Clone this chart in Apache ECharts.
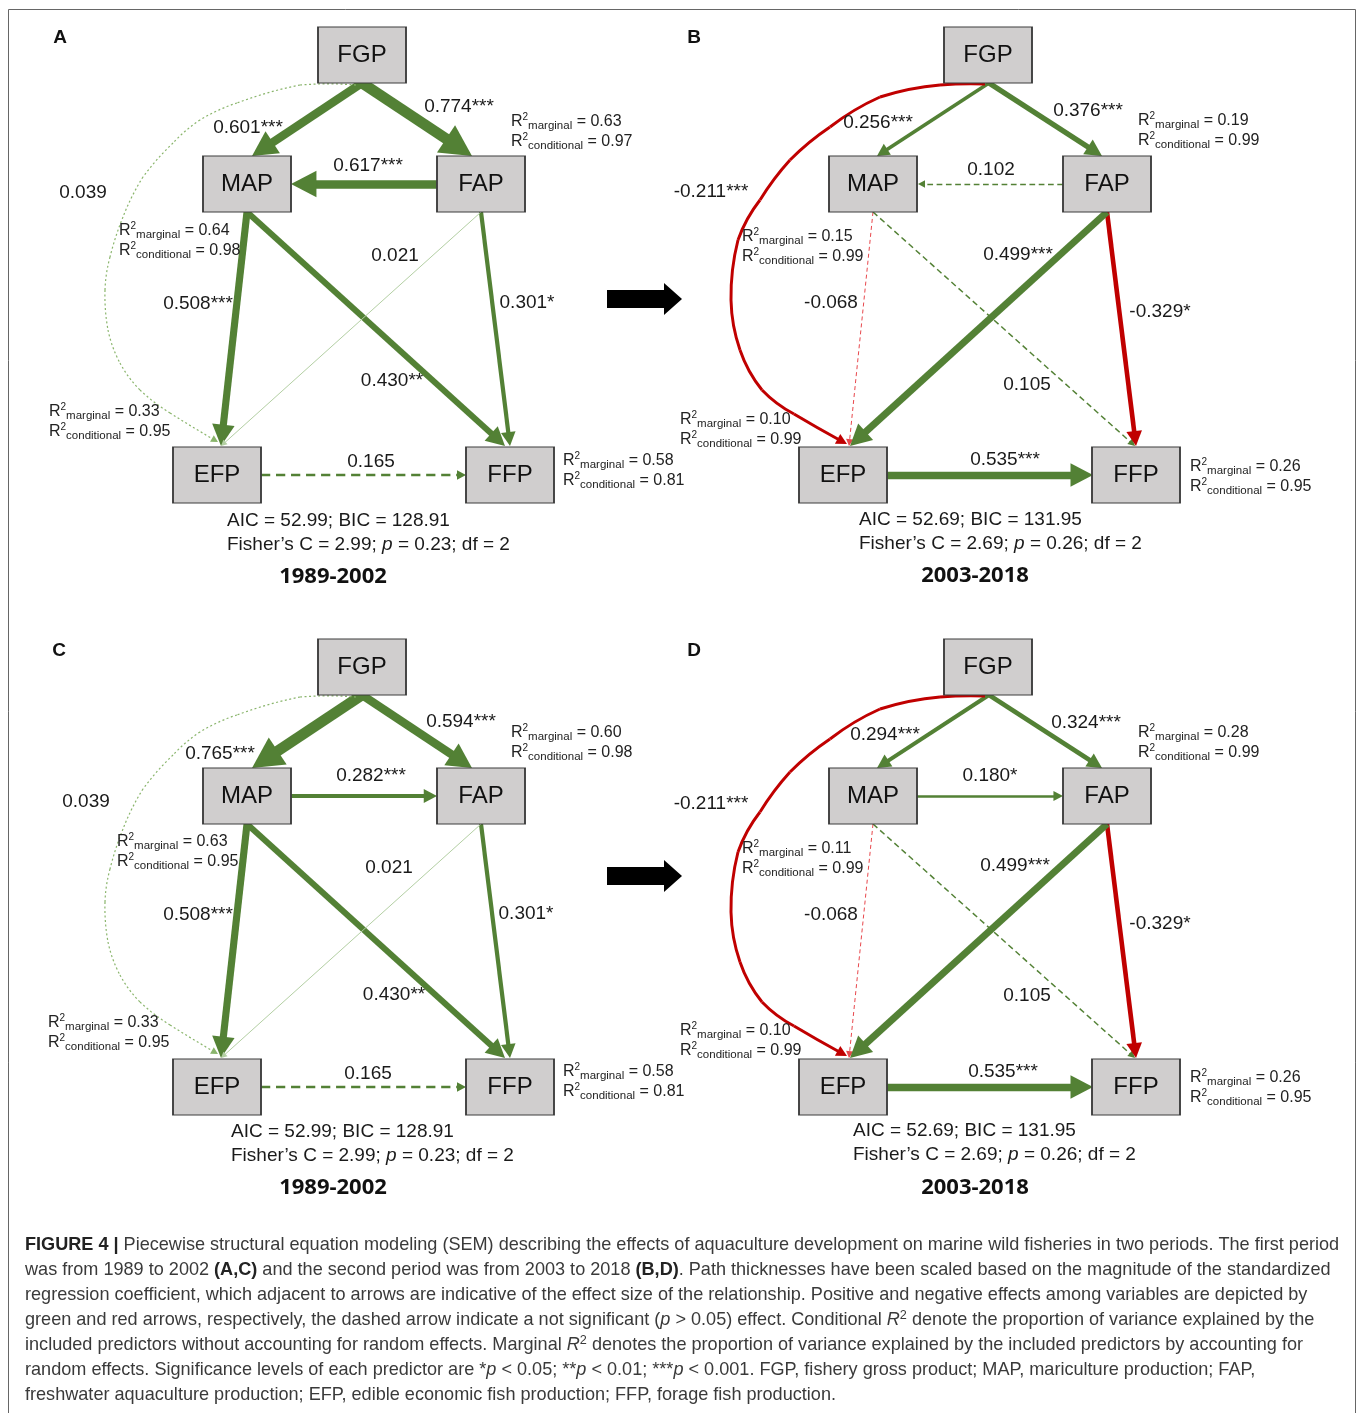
<!DOCTYPE html>
<html><head><meta charset="utf-8">
<script src="https://cdn.jsdelivr.net/npm/echarts@6/dist/echarts.min.js"></script>
<style>html,body{margin:0;padding:0;background:#fff}#c{width:1358px;height:1413px}</style>
</head><body><div id="c"></div>
<script>
// ================= DATA =================
const nodeNames = ['FGP', 'MAP', 'FAP', 'EFP', 'FFP'];
const r2Nodes = ['MAP', 'FAP', 'EFP', 'FFP'];
const panelLetters = ['A', 'B', 'C', 'D'];
const periodLabels = ['1989-2002', '2003-2018', '1989-2002', '2003-2018'];

const pathsA = ['FGP>MAP', 'FGP>FAP', 'FAP>MAP', 'MAP>EFP', 'MAP>FFP', 'FAP>FFP', 'FAP>EFP', 'EFP>FFP', 'FGP>EFP'];
const coefA  = [0.601, 0.774, 0.617, 0.508, 0.430, 0.301, 0.021, 0.165, 0.039];
const sigA   = ['***', '***', '***', '***', '**', '*', '', '', ''];

const pathsB = ['FGP>MAP', 'FGP>FAP', 'FAP>MAP', 'MAP>EFP', 'MAP>FFP', 'FAP>FFP', 'FAP>EFP', 'EFP>FFP', 'FGP>EFP'];
const coefB  = [0.256, 0.376, 0.102, -0.068, 0.105, -0.329, 0.499, 0.535, -0.211];
const sigB   = ['***', '***', '', '', '', '*', '***', '***', '***'];

const pathsC = ['FGP>MAP', 'FGP>FAP', 'MAP>FAP', 'MAP>EFP', 'MAP>FFP', 'FAP>FFP', 'FAP>EFP', 'EFP>FFP', 'FGP>EFP'];
const coefC  = [0.765, 0.594, 0.282, 0.508, 0.430, 0.301, 0.021, 0.165, 0.039];
const sigC   = ['***', '***', '***', '***', '**', '*', '', '', ''];

const pathsD = ['FGP>MAP', 'FGP>FAP', 'MAP>FAP', 'MAP>EFP', 'MAP>FFP', 'FAP>FFP', 'FAP>EFP', 'EFP>FFP', 'FGP>EFP'];
const coefD  = [0.294, 0.324, 0.180, -0.068, 0.105, -0.329, 0.499, 0.535, -0.211];
const sigD   = ['***', '***', '*', '', '', '*', '***', '***', '***'];

// R2 in order of r2Nodes: MAP, FAP, EFP, FFP
const r2MargA = [0.64, 0.63, 0.33, 0.58], r2CondA = [0.98, 0.97, 0.95, 0.81];
const r2MargB = [0.15, 0.19, 0.10, 0.26], r2CondB = [0.99, 0.99, 0.99, 0.95];
const r2MargC = [0.63, 0.60, 0.33, 0.58], r2CondC = [0.95, 0.98, 0.95, 0.81];
const r2MargD = [0.11, 0.28, 0.10, 0.26], r2CondD = [0.99, 0.99, 0.99, 0.95];

const aicValues = [52.99, 52.69, 52.99, 52.69];
const bicValues = [128.91, 131.95, 128.91, 131.95];
const fisherC   = [2.99, 2.69, 2.99, 2.69];
const pValues   = [0.23, 0.26, 0.23, 0.26];
const dfValues  = [2, 2, 2, 2];

const captionLines = [
  '{b|FIGURE 4 |} Piecewise structural equation modeling (SEM) describing the effects of aquaculture development on marine wild fisheries in two periods. The first period',
  'was from 1989 to 2002 {b|(A,C)} and the second period was from 2003 to 2018 {b|(B,D)}. Path thicknesses have been scaled based on the magnitude of the standardized',
  'regression coefficient, which adjacent to arrows are indicative of the effect size of the relationship. Positive and negative effects among variables are depicted by',
  'green and red arrows, respectively, the dashed arrow indicate a not significant ({i|p} > 0.05) effect. Conditional {i|R}{sup|2} denote the proportion of variance explained by the',
  'included predictors without accounting for random effects. Marginal {i|R}{sup|2} denotes the proportion of variance explained by the included predictors by accounting for',
  'random effects. Significance levels of each predictor are *{i|p} < 0.05; **{i|p} < 0.01; ***{i|p} < 0.001. FGP, fishery gross product; MAP, mariculture production; FAP,',
  'freshwater aquaculture production; EFP, edible economic fish production; FFP, forage fish production.'
];

// ================= LAYOUT / STYLE =================
const FONT = "'Liberation Sans', Arial, Helvetica, sans-serif";
const GREEN = '#538135', RED = '#c00000';
const panelPaths = [pathsA, pathsB, pathsC, pathsD];
const panelCoefs = [coefA, coefB, coefC, coefD];
const panelSigs = [sigA, sigB, sigC, sigD];
const panelR2M = [r2MargA, r2MargB, r2MargC, r2MargD];
const panelR2C = [r2CondA, r2CondB, r2CondC, r2CondD];

const panelOffsets = [[0, 0], [626, 0], [0, 612], [626, 612]];
const boxCenter = { FGP: [362, 55], MAP: [247, 184], FAP: [481, 184], EFP: [217, 475], FFP: [510, 475] };
const boxSize = [88, 56];

// path routes in panel-local pixels (first point = start, last = arrow tip)
const edgeGeom = [
  { 'FGP>MAP': [[362, 83], [252, 156]], 'FGP>FAP': [[362, 83], [472, 156]],
    'FAP>MAP': [[437, 184], [291, 184]], 'MAP>FAP': [[291, 184], [437, 184]],
    'MAP>EFP': [[247, 212], [221, 446]], 'MAP>FFP': [[247, 212], [505, 446]],
    'FAP>FFP': [[481, 212], [510, 446]], 'FAP>EFP': [[481, 212], [221, 446]],
    'EFP>FFP': [[261, 475], [466, 475]],
    'FGP>EFP': [[356, 85], [300, 85], [237, 103], [200, 120], [173, 143], [143, 177], [123, 217], [110, 257], [105, 290],
                [108, 330], [120, 363], [140, 390], [170, 413], [218, 442]] },
  { 'FGP>MAP': [[363, 83], [251, 156]], 'FGP>FAP': [[363, 83], [476, 156]],
    'FAP>MAP': [[437, 184], [292, 184]], 'MAP>FAP': [[291, 184], [437, 184]],
    'MAP>EFP': [[247, 212], [223, 446]], 'MAP>FFP': [[247, 212], [509, 446]],
    'FAP>FFP': [[481, 212], [510, 446]], 'FAP>EFP': [[481, 212], [224, 446]],
    'EFP>FFP': [[261, 475], [467, 475]],
    'FGP>EFP': [[359, 84], [314, 85], [254, 97], [204, 127], [164, 160], [134, 200], [112, 240], [105, 300],
                [114, 350], [136, 390], [168, 414], [221, 444]] }
];
const styleOverrides = [
  { 'FAP>EFP': { type: 'solid', color: '#b3cfa3', width: 1, head: 6 },
    'FGP>EFP': { type: [2, 2.5], color: '#8ab56c', width: 1.2, head: 7 } },
  { 'MAP>EFP': { color: '#e8474c', head: 7 } }
];
const labelPos = [
  { 'FGP>MAP': [248, 128], 'FGP>FAP': [459, 107], 'FAP>MAP': [368, 166], 'MAP>EFP': [198, 304], 'MAP>FFP': [392, 381],
    'FAP>FFP': [527, 303], 'FAP>EFP': [395, 256], 'EFP>FFP': [371, 462], 'FGP>EFP': [83, 193] },
  { 'FGP>MAP': [252, 123], 'FGP>FAP': [462, 111], 'FAP>MAP': [365, 170], 'MAP>EFP': [205, 303], 'MAP>FFP': [401, 385],
    'FAP>FFP': [534, 312], 'FAP>EFP': [392, 255], 'EFP>FFP': [379, 460], 'FGP>EFP': [85, 192] },
  { 'FGP>MAP': [220, 142], 'FGP>FAP': [461, 110], 'MAP>FAP': [371, 164], 'MAP>EFP': [198, 303], 'MAP>FFP': [394, 383],
    'FAP>FFP': [526, 302], 'FAP>EFP': [389, 256], 'EFP>FFP': [368, 462], 'FGP>EFP': [86, 190] },
  { 'FGP>MAP': [259, 123], 'FGP>FAP': [460, 111], 'MAP>FAP': [364, 164], 'MAP>EFP': [205, 303], 'MAP>FFP': [401, 384],
    'FAP>FFP': [534, 312], 'FAP>EFP': [389, 254], 'EFP>FFP': [377, 460], 'FGP>EFP': [85, 192] }
];
const r2Pos = [
  { MAP: [119, 231], FAP: [511, 122], EFP: [49, 412], FFP: [563, 461] },
  { MAP: [116, 237], FAP: [512, 121], EFP: [54, 420], FFP: [564, 467] },
  { MAP: [117, 230], FAP: [511, 121], EFP: [48, 411], FFP: [563, 460] },
  { MAP: [116, 237], FAP: [512, 121], EFP: [54, 419], FFP: [564, 466] }
];
const statsPos = [[227, 533], [233, 532], [231, 532], [227, 531]];
const periodPos = [[333, 577], [349, 576], [333, 576], [349, 576]];
const letterPos = [[60, 38], [68, 38], [59, 39], [68, 39]];

// ================= HELPERS =================
const sub = (a, b) => [a[0] - b[0], a[1] - b[1]];
const norm = v => { const l = Math.hypot(v[0], v[1]) || 1; return [v[0] / l, v[1] / l]; };
function fitCurveness(p1, p2, C) {
  const M = [(p1[0] + p2[0]) / 2, (p1[1] + p2[1]) / 2];
  const v = [p2[1] - p1[1], p1[0] - p2[0]];
  const w = sub(C, M);
  return (w[0] * v[0] + w[1] * v[1]) / (v[0] * v[0] + v[1] * v[1]);
}
// smooth route through points: quadratic control per segment from Hermite tangents
function routeSegments(pts) {
  const n = pts.length, segs = [];
  const tan = pts.map((p, i) => {
    const a = pts[Math.max(0, i - 1)], b = pts[Math.min(n - 1, i + 1)];
    const k = (i === 0 || i === n - 1) ? 1 : 0.5;
    return [(b[0] - a[0]) * k, (b[1] - a[1]) * k];
  });
  for (let i = 0; i < n - 1; i++) {
    const P0 = pts[i], P1 = pts[i + 1];
    if (n === 2) { segs.push({ p1: P0, p2: P1, C: null }); continue; }
    const M = [(P0[0] + P1[0]) / 2, (P0[1] + P1[1]) / 2];
    const mid = [M[0] + (tan[i][0] - tan[i + 1][0]) / 8, M[1] + (tan[i][1] - tan[i + 1][1]) / 8];
    segs.push({ p1: P0, p2: P1, C: [2 * mid[0] - M[0], 2 * mid[1] - M[1]] });
  }
  return segs;
}
function edgeStyle(fam, key, c, s) {
  const width = Math.max(1, 14 * Math.abs(c));
  const st = {
    width: width,
    color: c < 0 ? RED : GREEN,
    type: s ? 'solid' : [Math.max(4, width * 4), Math.max(3, width * 2.5)],
    head: Math.max(7, 2.6 * width + 3)
  };
  return Object.assign(st, styleOverrides[fam][key] || {});
}

const r2Rich = {
  m: { fontSize: 16, fontFamily: FONT, color: '#222', lineHeight: 20, verticalAlign: 'middle' },
  sup: { fontSize: 10, fontFamily: FONT, color: '#222', lineHeight: 20, verticalAlign: 'top' },
  sb: { fontSize: 11.5, fontFamily: FONT, color: '#222', lineHeight: 20, verticalAlign: 'bottom' }
};
const statRich = {
  t: { fontSize: 19, fontFamily: FONT, color: '#1a1a1a', lineHeight: 24 },
  i: { fontSize: 19, fontFamily: FONT, color: '#1a1a1a', lineHeight: 24, fontStyle: 'italic' }
};

function buildPanel(p) {
  const off = panelOffsets[p];
  const T = pt => [pt[0] + off[0], pt[1] + off[1]];
  const fam = p % 2;
  const nodes = [], links = [], heads = [], texts = [];
  const anchor = (name, pt) => nodes.push({ name, value: pt, symbol: 'circle', symbolSize: 0, label: { show: false } });

  panelPaths[p].forEach((key, i) => {
    const c = panelCoefs[p][i], s = panelSigs[p][i];
    const st = edgeStyle(fam, key, c, s);
    const segs = routeSegments(edgeGeom[fam][key].map(T));
    const L = st.head, W = L * 1.05;
    const last = segs[segs.length - 1];
    const tip = last.p2;
    const d = norm(sub(tip, last.C || last.p1));
    const end = [tip[0] - d[0] * L * 0.75, tip[1] - d[1] * L * 0.75];
    const ls = { color: st.color, width: st.width, type: st.type, opacity: 1, cap: 'butt' };
    const base = p + '-e' + i + '-';
    anchor(base + '0', segs[0].p1);
    segs.forEach((sg, k) => {
      const isLast = k === segs.length - 1;
      const p2 = isLast ? end : sg.p2;
      anchor(base + (k + 1), p2);
      const curv = sg.C ? fitCurveness(sg.p1, p2, sg.C) : 0;
      links.push({ source: base + k, target: base + (k + 1), lineStyle: Object.assign({}, ls, { curveness: curv }) });
    });
    heads.push({
      name: p + '-h' + i, value: [tip[0] - d[0] * L / 2, tip[1] - d[1] * L / 2],
      symbol: 'triangle', symbolSize: [W, L],
      symbolRotate: Math.atan2(-d[1], d[0]) * 180 / Math.PI - 90,
      itemStyle: { color: st.color }, label: { show: false }
    });
    texts.push({
      name: p + '-l' + i, value: T(labelPos[p][key]), symbol: 'circle', symbolSize: 0,
      label: { show: true, position: 'inside', formatter: c.toFixed(3) + s, fontSize: 19, fontFamily: FONT, color: '#1a1a1a' }
    });
  });

  const boxes = nodeNames.map(n => ({
    name: p + '-' + n, value: T(boxCenter[n]), symbol: 'rect', symbolSize: boxSize,
    itemStyle: { color: '#d0cece', borderColor: '#3d3d3d', borderWidth: 1.5 },
    label: { show: true, position: 'inside', formatter: n, fontSize: 24, fontFamily: FONT, color: '#111' }
  }));

  r2Nodes.forEach((n, k) => {
    const pos = r2Pos[p][n];
    texts.push({
      name: p + '-r' + n, value: T([pos[0], pos[1] + 10]), symbol: 'circle', symbolSize: 0,
      label: {
        show: true, position: 'right', distance: 0, rich: r2Rich,
        formatter: '{m|R}{sup|2}{sb|marginal}{m| = ' + panelR2M[p][k].toFixed(2) + '}\n{m|R}{sup|2}{sb|conditional}{m| = ' + panelR2C[p][k].toFixed(2) + '}'
      }
    });
  });
  texts.push({
    name: p + '-stats', value: T(statsPos[p]), symbol: 'circle', symbolSize: 0,
    label: {
      show: true, position: 'right', distance: 0, rich: statRich,
      formatter: '{t|AIC = ' + aicValues[p].toFixed(2) + '; BIC = ' + bicValues[p].toFixed(2) + '}\n{t|Fisher\u2019s C = ' +
        fisherC[p].toFixed(2) + '; }{i|p}{t| = ' + pValues[p].toFixed(2) + '; df = ' + dfValues[p] + '}'
    }
  });
  texts.push({
    name: p + '-period', value: T(periodPos[p]), symbol: 'circle', symbolSize: 0,
    label: { show: true, position: 'inside', formatter: periodLabels[p], fontSize: 22, fontWeight: 'bold', fontFamily: "'Open Sans', 'Liberation Sans', sans-serif", color: '#111' }
  });
  texts.push({
    name: p + '-letter', value: T(letterPos[p]), symbol: 'circle', symbolSize: 0,
    label: { show: true, position: 'inside', formatter: panelLetters[p], fontSize: 19, fontWeight: 'bold', fontFamily: FONT, color: '#111' }
  });

  return {
    type: 'graph', coordinateSystem: 'cartesian2d', xAxisIndex: 0, yAxisIndex: 0,
    layout: 'none', roam: false, silent: true, animation: false,
    emphasis: { disabled: true },
    edgeSymbol: ['none', 'none'],
    data: nodes.concat(heads, boxes, texts),
    links: links
  };
}

// caption font fit
const CAPFONT = "'Liberation Sans', Arial, sans-serif";
const cv = document.createElement('canvas').getContext('2d');
function mw(str, size, weight) { cv.font = (weight || 'normal') + ' ' + size + 'px ' + CAPFONT; return cv.measureText(str).width; }
const l1w = mw('FIGURE 4 |', 100, 'bold') + mw(' Piecewise structural equation modeling (SEM) describing the effects of aquaculture development on marine wild fisheries in two periods. The first period', 100);
const capSize = Math.round(1313 / l1w * 100 * 10) / 10;
const capRich = {
  b: { fontWeight: 'bold', fontSize: capSize, fontFamily: CAPFONT, fill: '#222' },
  i: { fontStyle: 'italic', fontSize: capSize, fontFamily: CAPFONT, fill: '#3a3a3a' },
  sup: { fontSize: capSize * 0.7, fontFamily: CAPFONT, fill: '#3a3a3a', verticalAlign: 'top', lineHeight: capSize * 1.2 }
};

const graphics = [
  { type: 'rect', shape: { x: 8.5, y: 9.5, width: 1347, height: 1500 }, style: { fill: 'none', stroke: '#666', lineWidth: 1 }, silent: true }
];
[299, 876].forEach(cy => {
  graphics.push({
    type: 'polygon', silent: true,
    shape: { points: [[607, cy - 9], [664, cy - 9], [664, cy - 16], [682, cy], [664, cy + 16], [664, cy + 9], [607, cy + 9]] },
    style: { fill: '#000' }
  });
});
captionLines.forEach((t, k) => {
  graphics.push({
    type: 'text', x: 25, y: 1245 + 25 * k, silent: true,
    style: { text: t, fontSize: capSize, fontFamily: CAPFONT, fill: '#3a3a3a', verticalAlign: 'middle', align: 'left', rich: capRich, lineHeight: capSize * 1.2 }
  });
});

const chart = echarts.init(document.getElementById('c'), null, { renderer: 'canvas' });
chart.setOption({
  backgroundColor: '#fff',
  animation: false,
  grid: { left: 0, right: 0, top: 0, bottom: 0 },
  xAxis: { type: 'value', min: 0, max: 1358, show: false },
  yAxis: { type: 'value', min: 0, max: 1413, inverse: true, show: false },
  series: [0, 1, 2, 3].map(buildPanel),
  graphic: graphics
});
</script></body></html>
